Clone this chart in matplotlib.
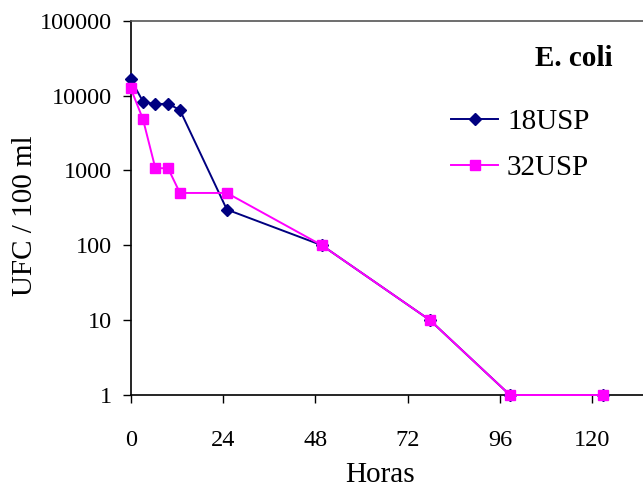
import numpy as np
import matplotlib.pyplot as plt
from matplotlib.ticker import FixedLocator, FixedFormatter

# hours sampled
horas = [0, 3.2, 6.4, 9.7, 12.8, 25, 49.7, 77.8, 98.6, 122.8]
usp18 = [16500, 8300, 7650, 7800, 6400, 300, 100, 10, 1, 1]
usp32 = [12500, 4800, 1070, 1070, 500, 500, 100, 10, 1, 1]
series_names = ["18USP", "32USP"]
x_ticks = [0, 24, 48, 72, 96, 120]
y_ticks = [1, 10, 100, 1000, 10000, 100000]

plt.rcParams['font.family'] = ['Liberation Serif', 'DejaVu Serif']

fig = plt.figure(figsize=(6.43, 4.87), dpi=100)
ax = fig.add_axes([0.2033, 0.1889, 0.7967, 0.7686])

ax.plot(horas, usp18, color='#000080', marker='D', markersize=6, lw=1.4,
        label=series_names[0], zorder=3, clip_on=False)
ax.plot(horas, usp32, color='#FF00FF', marker='s', markersize=7.5, lw=1.4,
        label=series_names[1], zorder=4, clip_on=False)

ax.set_yscale('log')
ax.set_ylim(1, 100000)
ax.set_xlim(0, 133.2)
ax.yaxis.set_major_locator(FixedLocator(y_ticks))
ax.yaxis.set_major_formatter(FixedFormatter([str(v) for v in y_ticks]))
ax.yaxis.set_minor_locator(FixedLocator([]))
ax.set_xticks(x_ticks)
ax.set_xticklabels([str(v) for v in x_ticks])

ax.tick_params(axis='both', direction='out', length=5.5, width=1, labelsize=17.5)
ax.tick_params(axis='x', pad=20)
ax.tick_params(axis='y', pad=8)

ax.spines['right'].set_visible(False)
for s in ['left', 'bottom']:
    ax.spines[s].set_linewidth(1.2)
ax.spines['top'].set_linewidth(1.2)
ax.spines['top'].set_color('#555555')

# axis titles placed in figure coords
fig.text(380 / 643, 1 - 482 / 487, "Horas", fontsize=21,
         ha='center', va='baseline')
fig.text(25 / 643, 1 - 216 / 487, "UFC / 100 ml", fontsize=21,
         rotation=90, ha='center', va='center')

fig.text(574 / 643, 1 - 58 / 487, "E. coli", fontsize=21, fontweight='bold',
         ha='center', va='center')

ax.legend(loc='upper left', bbox_to_anchor=(451 / 643, 1 - 109 / 487),
          bbox_transform=fig.transFigure, frameon=False, fontsize=21,
          handlelength=1.62, handletextpad=0.3, labelspacing=0.65,
          borderpad=0, borderaxespad=0)

fig.savefig("out.png", dpi=100)
